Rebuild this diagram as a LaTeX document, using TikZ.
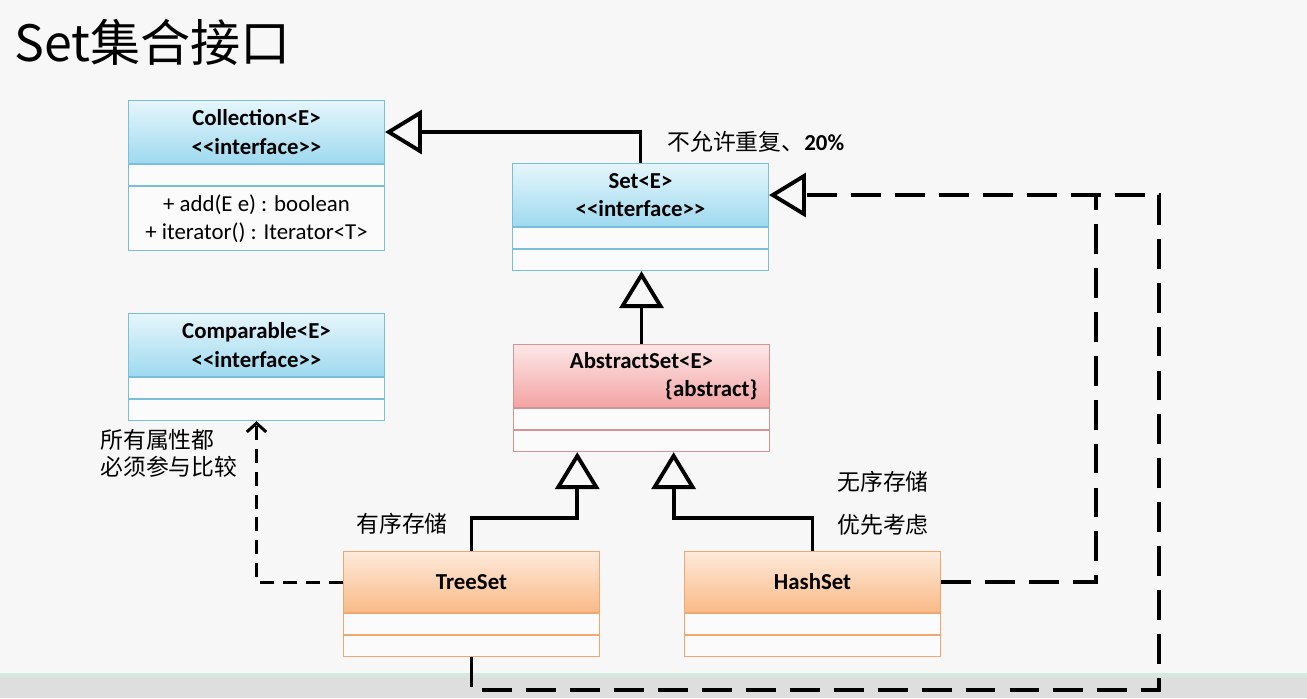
\documentclass[tikz,border=0pt]{standalone}
\usepackage{fontspec}
\setmainfont{Carlito}
\newfontfamily\cjk{Noto Sans CJK SC}
\usepackage{tikz}
\usetikzlibrary{positioning,calc,arrows.meta}

\definecolor{bgcol}{HTML}{F7F7F7}
\definecolor{barcol}{HTML}{DEDEDE}
\definecolor{barline}{HTML}{D3EBDE}
\definecolor{rowcol}{HTML}{FBFBFB}
\definecolor{ifacetop}{HTML}{E6F6FC}
\definecolor{ifacebot}{HTML}{9ED9EF}
\definecolor{ifaceline}{HTML}{79BFDA}
\definecolor{abstop}{HTML}{FDE7E7}
\definecolor{absbot}{HTML}{F3A3A3}
\definecolor{absline}{HTML}{D49494}
\definecolor{impltop}{HTML}{FEEADB}
\definecolor{implbot}{HTML}{F9BA87}
\definecolor{implline}{HTML}{EFA872}

\newcommand\boxfont{\fontsize{13}{16}\selectfont}
\newcommand\notefont{\cjk\fontsize{13}{15.5}\selectfont}

\begin{document}
\begin{tikzpicture}[x=0.02cm,y=-0.02cm,
	head/.style = {draw,minimum width=5.12cm,minimum height=1.26cm,inner sep=0pt,anchor=north west,align=center,font=\boxfont\bfseries},
	row/.style = {draw,fill=rowcol,minimum width=5.12cm,minimum height=0.42cm,inner sep=0pt,below=0pt of #1},
	iface/.style = {draw=ifaceline,line width=0.6pt},
	abstr/.style = {draw=absline,line width=0.6pt},
	impl/.style = {draw=implline,line width=0.6pt},
	inherit/.style = {line width=2.2pt,-{Triangle[open,length=21pt,width=25pt]}},
	realize/.style = {line width=2.2pt,dash pattern=on 17pt off 8pt},
	dep line/.style = {line width=1.7pt,dash pattern=on 8pt off 5pt,-{Straight Barb[length=5pt,width=11pt]}},
	note/.style = {font=\notefont,anchor=west,inner sep=0pt,align=left}
	]
	\useasboundingbox (0,0) rectangle (1307,698);
	\fill[bgcol] (0,0) rectangle (1307,698);
	\fill[barline] (0,673) rectangle (1307,677);
	\fill[barcol] (0,677) rectangle (1307,698);
	%TITOLO
	\node[anchor=west,inner sep=0pt,font=\cjk\fontsize{28.5}{34}\selectfont] (title) at (14,42) {Set集合接口};
	%INTERFACCE
	\node[head,iface,top color=ifacetop,bottom color=ifacebot] (coll-h) at (128,100) {Collection<{}E>\\<{}<interface>{}>};
	\node[row=coll-h,iface] (coll-r1) {};
	\node[row=coll-h,iface,below=0pt of coll-r1,minimum height=1.28cm,align=center,font=\boxfont] (coll-r2) {+ add(E e) : boolean\\+ iterator() : Iterator<{}T>};
	\node[head,iface,top color=ifacetop,bottom color=ifacebot] (set-h) at (512,163) {Set<{}E>\\<{}<interface>{}>};
	\node[row=set-h,iface] (set-r1) {};
	\node[row=set-r1,iface] (set-r2) {};
	\node[head,iface,top color=ifacetop,bottom color=ifacebot] (comp-h) at (128,313) {Comparable<{}E>\\<{}<interface>{}>};
	\node[row=comp-h,iface] (comp-r1) {};
	\node[row=comp-r1,iface] (comp-r2) {};
	%CLASSE ASTRATTA
	\node[head,abstr,top color=abstop,bottom color=absbot,text width=4.64cm] (abs-h) at (513,344) {AbstractSet<{}E>\\\hfill\{abstract\}};
	\node[row=abs-h,abstr] (abs-r1) {};
	\node[row=abs-r1,abstr] (abs-r2) {};
	%CLASSI CONCRETE
	\node[head,impl,top color=impltop,bottom color=implbot,minimum height=1.22cm] (tree-h) at (343,551) {TreeSet};
	\node[row=tree-h,impl] (tree-r1) {};
	\node[row=tree-r1,impl] (tree-r2) {};
	\node[head,impl,top color=impltop,bottom color=implbot,minimum height=1.22cm] (hash-h) at (684,551) {HashSet};
	\node[row=hash-h,impl] (hash-r1) {};
	\node[row=hash-r1,impl] (hash-r2) {};
	%NOTE
	\node[note] (set-note) at (667,142) {不允许重复、{\rmfamily\bfseries 20\%}};
	\node[note,font=\cjk\fontsize{13}{15.4}\selectfont] (comp-note) at (100,453.5) {所有属性都\\必须参与比较};
	\node[note] (tree-note) at (356,524) {有序存储};
	\node[note,font=\cjk\fontsize{13}{24.5}\selectfont] (hash-note) at (837,503.5) {无序存储\\优先考虑};
	%GENERALIZZAZIONE
	\coordinate (abs-l) at ($(abs-r2.south west)!.25!(abs-r2.south east)$);
	\coordinate (abs-r) at ($(abs-r2.south west)!.625!(abs-r2.south east)$);
	\draw[inherit] (set-h.north) |- (coll-h.east);
	\draw[inherit] (abs-h.north) -- (abs-h.north |- set-r2.south);
	\draw[inherit] (tree-h.north) -- ++(0,-33) -| (abs-l);
	\draw[inherit] (hash-h.north) -- ++(0,-33) -| (abs-r);
	%REALIZZAZIONE
	\coordinate (join) at ($(set-h.east)+(327,0)$);
	\coordinate (bend) at ($(set-h.east)+(390,0)$);
	\draw[realize] (hash-h.east) -| (join);
	\draw[realize,-{Triangle[open,length=21pt,width=25pt]}] (tree-r2.south) -- ++(0,33) -| (bend) -- (set-h.east);
	%DIPENDENZA
	\draw[dep line] (tree-h.west) -| (comp-r2.south);
\end{tikzpicture}
\end{document}
